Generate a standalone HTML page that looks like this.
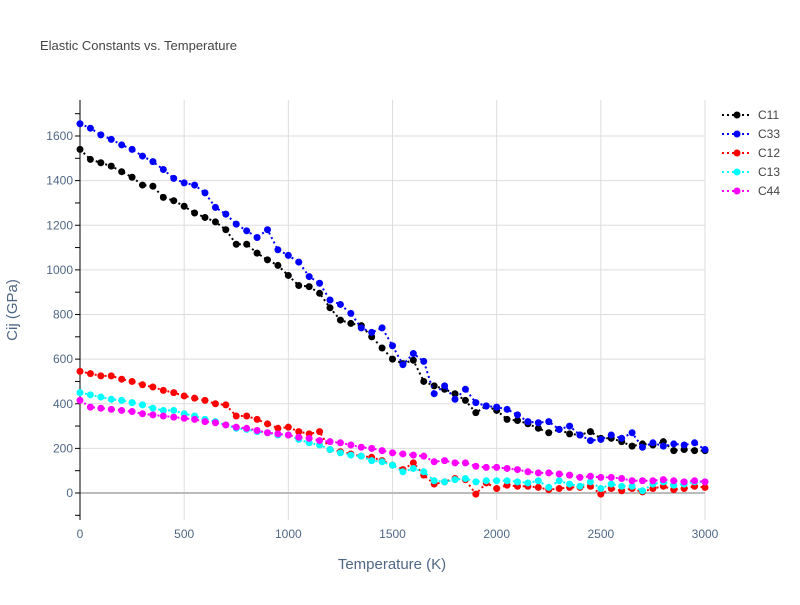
<!DOCTYPE html>
<html><head><meta charset="utf-8"><style>
body{margin:0;background:#fff;font-family:"Liberation Sans",sans-serif}
text{font-family:"Liberation Sans",sans-serif}
</style></head><body>
<svg id="chart" width="800" height="600" xmlns="http://www.w3.org/2000/svg">
<rect width="800" height="600" fill="#fff"/>
<text x="40" y="50" font-size="13" fill="#444">Elastic Constants vs. Temperature</text>
<g id="grid"></g><g id="axes"></g><g id="series"></g><g id="legend"></g>
<text x="392" y="569" font-size="15" fill="#506784" text-anchor="middle">Temperature (K)</text>
<text x="17" y="310" font-size="15" fill="#506784" text-anchor="middle" transform="rotate(-90 17 310)">Cij (GPa)</text>
</svg>
<script>
const temps=[];for(let t=0;t<=3000;t+=50)temps.push(t);
const C11=[1540,1495,1480,1465,1440,1415,1380,1375,1325,1310,1285,1255,1235,1215,1180,1115,1115,1075,1045,1020,975,930,925,895,830,775,760,750,700,650,600,580,595,500,480,465,445,415,360,390,370,330,325,310,290,270,285,265,260,275,245,245,230,210,220,215,230,190,195,190,190];
const C33=[1655,1635,1605,1585,1560,1540,1510,1485,1450,1410,1390,1380,1345,1280,1250,1205,1175,1145,1180,1090,1065,1035,970,940,865,845,805,740,720,740,660,575,625,590,445,480,420,465,405,390,385,375,350,320,315,320,285,300,260,235,240,260,245,270,205,225,210,220,215,225,195];
const C12=[545,535,525,525,510,500,485,475,460,450,435,425,415,400,395,345,345,330,310,290,295,275,265,275,195,185,175,165,160,145,125,105,135,80,40,50,65,60,-5,45,20,35,30,30,25,15,20,25,25,30,-5,20,10,20,5,20,30,15,20,30,25];
const C13=[450,440,430,420,415,405,395,380,370,370,355,345,330,320,305,290,285,275,270,260,260,240,225,215,195,180,170,165,145,140,125,95,110,95,55,50,60,65,50,55,55,55,50,45,55,25,55,40,30,50,20,40,30,30,10,40,50,35,40,50,50];
const C44=[415,385,380,375,370,365,355,350,345,340,335,330,320,315,305,295,290,280,270,265,260,250,245,235,230,225,215,205,200,190,180,175,170,165,140,145,135,135,120,115,115,110,105,95,90,90,85,80,70,75,70,70,65,55,55,55,60,55,50,55,50];
const seriesNames=["C11","C33","C12","C13","C44"];
const seriesColors=["#000000","#0000ff","#ff0000","#00ffff","#ff00ff"];
const xTicks=[0,500,1000,1500,2000,2500,3000];
const yTicks=[0,200,400,600,800,1000,1200,1400,1600];
const NS="http://www.w3.org/2000/svg";
const L=80,R=705,T=100,B=520;
const xs=v=>L+(v-0)/3000*(R-L);
const ys=v=>493-v*357/1600;
function mk(tag,attrs,parent){const e=document.createElementNS(NS,tag);for(const k in attrs)e.setAttribute(k,attrs[k]);parent.appendChild(e);return e;}
const grid=document.getElementById('grid'),axes=document.getElementById('axes'),ser=document.getElementById('series'),leg=document.getElementById('legend');
xTicks.forEach(t=>{
  const g=mk('line',{x1:xs(t),x2:xs(t),y1:T,y2:B,stroke:'#ddd','stroke-width':1},grid);
  
  
  const tx=mk('text',{x:xs(t),y:B+18,'font-size':12,fill:'#506784','text-anchor':'middle'},axes);
  tx.textContent=t;
  
  
});
yTicks.forEach(t=>{
  const g=mk('line',{x1:L,x2:R,y1:ys(t),y2:ys(t),stroke:t===0?'#bbb':'#ddd','stroke-width':t===0?2:1},grid);
  
  
  const tx=mk('text',{x:L-7,y:ys(t)+4,'font-size':12,fill:'#506784','text-anchor':'end'},axes);
  tx.textContent=t;
  
  
});
for(let t=-100;t<=1700;t+=100){const tk=mk('line',{x1:L-5,x2:L,y1:ys(t),y2:ys(t),stroke:'#000','stroke-width':1},axes);}
const yl=mk('line',{x1:L,x2:L,y1:T,y2:B,stroke:'#000','stroke-width':1},axes);


const data=[C11,C33,C12,C13,C44];
data.forEach((arr,i)=>{
  const g=mk('g',{},ser);
  
  
  const pts=arr.map((v,j)=>xs(temps[j]).toFixed(1)+','+ys(v).toFixed(1)).join(' ');
  const pl=mk('polyline',{points:pts,fill:'none',stroke:seriesColors[i],'stroke-width':2,'stroke-dasharray':'2,3'},g);
  
  
  arr.forEach((v,j)=>{
    const c=mk('circle',{cx:xs(temps[j]),cy:ys(v),r:3.5,fill:seriesColors[i]},g);
    
    
  });
  const ly=115+i*19;
  const le=mk('g',{},leg);
  
  
  mk('line',{x1:722,x2:752,y1:ly,y2:ly,stroke:seriesColors[i],'stroke-width':2,'stroke-dasharray':'2,3'},le);
  mk('circle',{cx:737,cy:ly,r:3.5,fill:seriesColors[i]},le);
  const t=mk('text',{x:758,y:ly+4,'font-size':12,fill:'#444'},le);
  t.textContent=seriesNames[i];
});
</script>
</body></html>
